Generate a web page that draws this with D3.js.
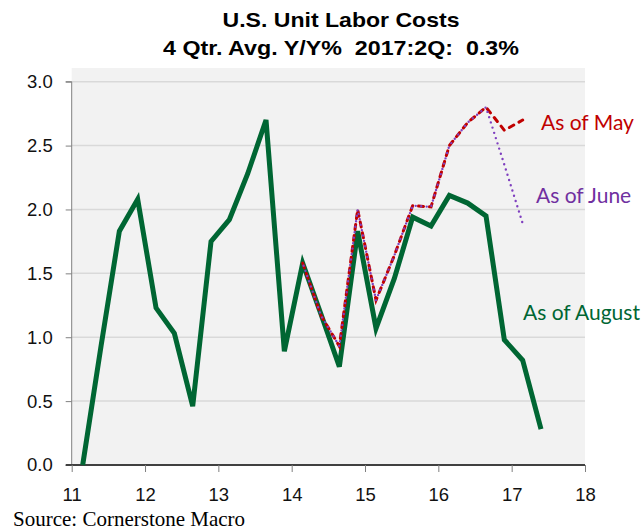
<!DOCTYPE html>
<html>
<head>
<meta charset="utf-8">
<script src="https://cdn.jsdelivr.net/npm/d3@7/dist/d3.min.js"></script>
<style>
  html, body { margin: 0; padding: 0; background: #fff; }
  svg { display: block; }
  .pre { white-space: pre; }
</style>
</head>
<body>
<svg id="chart" width="644" height="531"></svg>
<script>
// ---- Data ----
const quarters = [
  "2011Q1","2011Q2","2011Q3","2011Q4",
  "2012Q1","2012Q2","2012Q3","2012Q4",
  "2013Q1","2013Q2","2013Q3","2013Q4",
  "2014Q1","2014Q2","2014Q3","2014Q4",
  "2015Q1","2015Q2","2015Q3","2015Q4",
  "2016Q1","2016Q2","2016Q3","2016Q4",
  "2017Q1","2017Q2"
];
const asOfAugust = [0.00, 0.93, 1.83, 2.08, 1.23, 1.03, 0.46, 1.75, 1.92, 2.28, 2.70, 0.89,
                    1.58, 1.18, 0.77, 1.83, 1.07, 1.46, 1.94, 1.87, 2.11, 2.05, 1.95, 0.98,
                    0.82, 0.28];
const mayQuarters = quarters.slice(12, 25);
const asOfMay  = [1.58, 1.17, 0.93, 2.00, 1.29, 1.64, 2.03, 2.02, 2.50, 2.68, 2.80, 2.62, 2.70];
const juneQuarters = quarters.slice(12, 25);
const asOfJune = [1.58, 1.17, 0.93, 2.00, 1.29, 1.64, 2.03, 2.02, 2.50, 2.68, 2.80, 2.35, 1.89];

const xTicks = [11, 12, 13, 14, 15, 16, 17, 18];
const yTicks = [0.0, 0.5, 1.0, 1.5, 2.0, 2.5, 3.0];

const titleLines = ["U.S. Unit Labor Costs", "4 Qtr. Avg. Y/Y%  2017:2Q:  0.3%"];
const seriesLabels = ["As of May", "As of June", "As of August"];
const sourceText = "Source: Cornerstone Macro";

// quarter label -> position on the 2-digit year axis
function qPos(q) {
  const yr = +q.slice(0, 4) - 2000;
  const qi = +q.slice(5) - 1;
  return yr + 0.15 + 0.25 * qi;
}

// ---- Layout ----
const svg = d3.select("#chart");
const L = 71.7, R = 585, T = 81.7, B = 465;

const x = d3.scaleLinear().domain([11, 18]).range([L, R]);
const y = d3.scaleLinear().domain([0, 3]).range([B, T]);

// plot background
svg.append("rect")
  .attr("x", L).attr("y", 68)
  .attr("width", R - L).attr("height", B - 68)
  .attr("fill", "#f2f2f2");

// gridlines
svg.append("g")
  .selectAll("line")
  .data(yTicks.filter(d => d > 0))
  .join("line")
  .attr("x1", L).attr("x2", R)
  .attr("y1", d => y(d)).attr("y2", d => y(d))
  .attr("stroke", "#d9d9d9").attr("stroke-width", 1.5);

const tickFont = "'Liberation Sans', Arial, sans-serif";

// y axis
const yAxis = d3.axisLeft(y).tickValues(yTicks).tickFormat(d3.format(".1f")).tickSize(6).tickPadding(13);
const gy = svg.append("g").attr("transform", `translate(${L},0)`).call(yAxis);
gy.select(".domain").attr("stroke", "#808080").attr("stroke-width", 1)
  .attr("d", `M-6,${T}H0V${B}`);
gy.selectAll(".tick line").attr("stroke", "#808080");
gy.selectAll(".tick text")
  .attr("font-family", tickFont)
  .attr("font-size", 18.5).attr("fill", "#111");

// x axis
const xAxis = d3.axisBottom(x).tickValues(xTicks).tickFormat(d3.format("d")).tickSize(7).tickPadding(16);
const gx = svg.append("g").attr("transform", `translate(0,${B})`).call(xAxis);
gx.select(".domain").attr("stroke", "#404040").attr("stroke-width", 2)
  .attr("d", `M${L - 6},0H${R}`);
gx.selectAll(".tick line").attr("stroke", "#808080").attr("stroke-width", 1);
gx.selectAll(".tick text")
  .attr("font-family", tickFont)
  .attr("font-size", 18.5).attr("fill", "#111");

// ---- Lines ----
const line = d3.line().x(d => x(d[0])).y(d => y(d[1]));

const aug = quarters.map((q, i) => [qPos(q), asOfAugust[i]]);
const may = mayQuarters.map((q, i) => [qPos(q), asOfMay[i]]);
const jun = juneQuarters.map((q, i) => [qPos(q), asOfJune[i]]);

svg.append("path").datum(aug).attr("d", line)
  .attr("fill", "none").attr("stroke", "#006633").attr("stroke-width", 5)
  .attr("stroke-linejoin", "miter");

svg.append("path").datum(may).attr("d", line)
  .attr("fill", "none").attr("stroke", "#c00000").attr("stroke-width", 3)
  .attr("stroke-linecap", "round").attr("stroke-dasharray", "5,6");

svg.append("path").datum(jun).attr("d", line)
  .attr("fill", "none").attr("stroke", "#7f3fbf").attr("stroke-width", 2.4)
  .attr("stroke-linecap", "round").attr("stroke-dasharray", "0,5.5")
  .attr("stroke-dashoffset", -2.7);

// ---- Series labels ----
const labelFont = "Lato, 'Open Sans', sans-serif";
const labelCfg = [
  { t: seriesLabels[0], x: 541, y: 130, c: "#c00000" },
  { t: seriesLabels[1], x: 536, y: 203, c: "#7030a0" },
  { t: seriesLabels[2], x: 523, y: 320, c: "#006633" }
];
svg.append("g").selectAll("text").data(labelCfg).join("text")
  .attr("x", d => d.x).attr("y", d => d.y)
  .attr("fill", d => d.c)
  .attr("font-family", labelFont).attr("font-size", 21)
  .text(d => d.t);

// ---- Title ----
const titleCfg = [
  { t: titleLines[0], y: 27, w: 237 },
  { t: titleLines[1], y: 55, w: 356 }
];
svg.append("g").selectAll("text").data(titleCfg).join("text")
  .attr("class", "pre")
  .attr("x", 341).attr("y", d => d.y)
  .attr("text-anchor", "middle")
  .attr("font-family", "'Liberation Sans', Arial, sans-serif")
  .attr("font-weight", "bold").attr("font-size", 21)
  .attr("textLength", d => d.w).attr("lengthAdjust", "spacingAndGlyphs")
  .attr("fill", "#000")
  .text(d => d.t);

// ---- Source ----
svg.append("text")
  .attr("x", 13).attr("y", 526)
  .attr("font-family", "'Liberation Serif', 'Times New Roman', serif")
  .attr("font-size", 21).attr("fill", "#000")
  .text(sourceText);
</script>
</body>
</html>
